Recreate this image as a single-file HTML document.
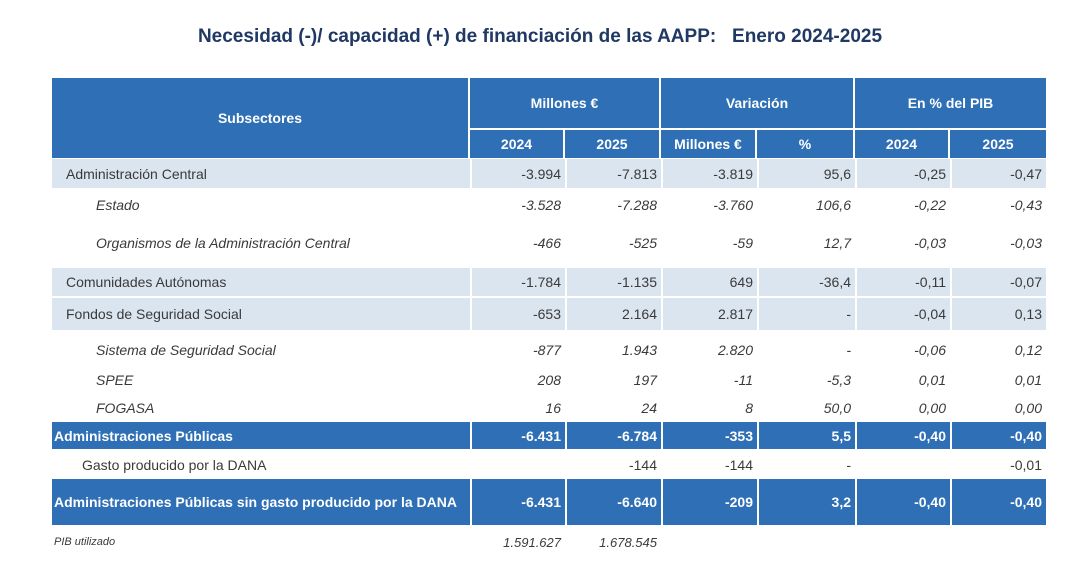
<!DOCTYPE html>
<html><head><meta charset="utf-8">
<style>
body{margin:0;width:1068px;height:567px;background:#fff;position:relative;overflow:hidden;font-family:"Liberation Sans",sans-serif;color:#3a3a3a}
.t{position:absolute;top:26px;left:0;width:1080px;text-align:center;font-size:19px;font-weight:bold;color:#1f3864}
.row{position:absolute;left:52px;width:994px}
.row div{position:absolute;top:0;height:100%;display:flex;align-items:center;font-size:14px;box-sizing:border-box}
.lbl{left:0;width:418px;padding-left:14px}
.c{justify-content:flex-end;padding-right:4px;border-left:2px solid #fff}
.c1{left:418px;width:95px}.c2{left:513px;width:96px}.c3{left:609px;width:96px}.c4{left:705px;width:98px}.c5{left:803px;width:95px}.c6{left:898px;width:96px}
.lt{background:#dbe5f0}
.bl{background:#2e6fb5;color:#fff;font-weight:bold}
.it{font-style:italic}
.it .lbl{padding-left:44px}
.hd{position:absolute;background:#2e6fb5;color:#fff;font-weight:bold;font-size:14px;display:flex;align-items:center;justify-content:center;box-sizing:border-box}
</style></head><body>
<div class="t">Necesidad (-)/ capacidad (+) de financiación de las AAPP:&nbsp;&nbsp; Enero 2024-2025</div>

<div class="hd" style="left:52px;top:78px;width:416px;height:80px">Subsectores</div>
<div class="hd" style="left:470px;top:78px;width:189px;height:50px">Millones €</div>
<div class="hd" style="left:661px;top:78px;width:192px;height:50px">Variación</div>
<div class="hd" style="left:855px;top:78px;width:191px;height:50px">En % del PIB</div>
<div class="hd" style="left:470px;top:130px;width:93px;height:28px">2024</div>
<div class="hd" style="left:565px;top:130px;width:94px;height:28px">2025</div>
<div class="hd" style="left:661px;top:130px;width:94px;height:28px">Millones €</div>
<div class="hd" style="left:757px;top:130px;width:96px;height:28px">%</div>
<div class="hd" style="left:855px;top:130px;width:93px;height:28px">2024</div>
<div class="hd" style="left:950px;top:130px;width:96px;height:28px">2025</div>

<div class="row lt" style="top:159px;height:29px"><div class="lbl">Administración Central</div><div class="c c1">-3.994</div><div class="c c2">-7.813</div><div class="c c3">-3.819</div><div class="c c4">95,6</div><div class="c c5">-0,25</div><div class="c c6">-0,47</div></div>
<div class="row it" style="top:188px;height:34px"><div class="lbl">Estado</div><div class="c c1">-3.528</div><div class="c c2">-7.288</div><div class="c c3">-3.760</div><div class="c c4">106,6</div><div class="c c5">-0,22</div><div class="c c6">-0,43</div></div>
<div class="row it" style="top:222px;height:42px"><div class="lbl">Organismos de la Administración Central</div><div class="c c1">-466</div><div class="c c2">-525</div><div class="c c3">-59</div><div class="c c4">12,7</div><div class="c c5">-0,03</div><div class="c c6">-0,03</div></div>
<div class="row lt" style="top:268px;height:28px"><div class="lbl">Comunidades Autónomas</div><div class="c c1">-1.784</div><div class="c c2">-1.135</div><div class="c c3">649</div><div class="c c4">-36,4</div><div class="c c5">-0,11</div><div class="c c6">-0,07</div></div>
<div class="row lt" style="top:298px;height:32px"><div class="lbl">Fondos de Seguridad Social</div><div class="c c1">-653</div><div class="c c2">2.164</div><div class="c c3">2.817</div><div class="c c4">-</div><div class="c c5">-0,04</div><div class="c c6">0,13</div></div>
<div class="row it" style="top:334px;height:32px"><div class="lbl">Sistema de Seguridad Social</div><div class="c c1">-877</div><div class="c c2">1.943</div><div class="c c3">2.820</div><div class="c c4">-</div><div class="c c5">-0,06</div><div class="c c6">0,12</div></div>
<div class="row it" style="top:366px;height:28px"><div class="lbl">SPEE</div><div class="c c1">208</div><div class="c c2">197</div><div class="c c3">-11</div><div class="c c4">-5,3</div><div class="c c5">0,01</div><div class="c c6">0,01</div></div>
<div class="row it" style="top:394px;height:28px"><div class="lbl">FOGASA</div><div class="c c1">16</div><div class="c c2">24</div><div class="c c3">8</div><div class="c c4">50,0</div><div class="c c5">0,00</div><div class="c c6">0,00</div></div>
<div class="row bl" style="top:422px;height:27px"><div class="lbl" style="padding-left:2px">Administraciones Públicas</div><div class="c c1">-6.431</div><div class="c c2">-6.784</div><div class="c c3">-353</div><div class="c c4">5,5</div><div class="c c5">-0,40</div><div class="c c6">-0,40</div></div>
<div class="row" style="top:451px;height:28px"><div class="lbl" style="padding-left:30px">Gasto producido por la DANA</div><div class="c c2">-144</div><div class="c c3">-144</div><div class="c c4">-</div><div class="c c6">-0,01</div></div>
<div class="row bl" style="top:479px;height:46px"><div class="lbl" style="padding-left:2px;line-height:23px">Administraciones Públicas sin gasto producido por la DANA</div><div class="c c1">-6.431</div><div class="c c2">-6.640</div><div class="c c3">-209</div><div class="c c4">3,2</div><div class="c c5">-0,40</div><div class="c c6">-0,40</div></div>
<div class="row it" style="top:530px;height:24px"><div class="lbl" style="padding-left:2px;font-size:11px">PIB utilizado</div><div class="c c1" style="font-size:13px">1.591.627</div><div class="c c2" style="font-size:13px">1.678.545</div></div>
</body></html>
